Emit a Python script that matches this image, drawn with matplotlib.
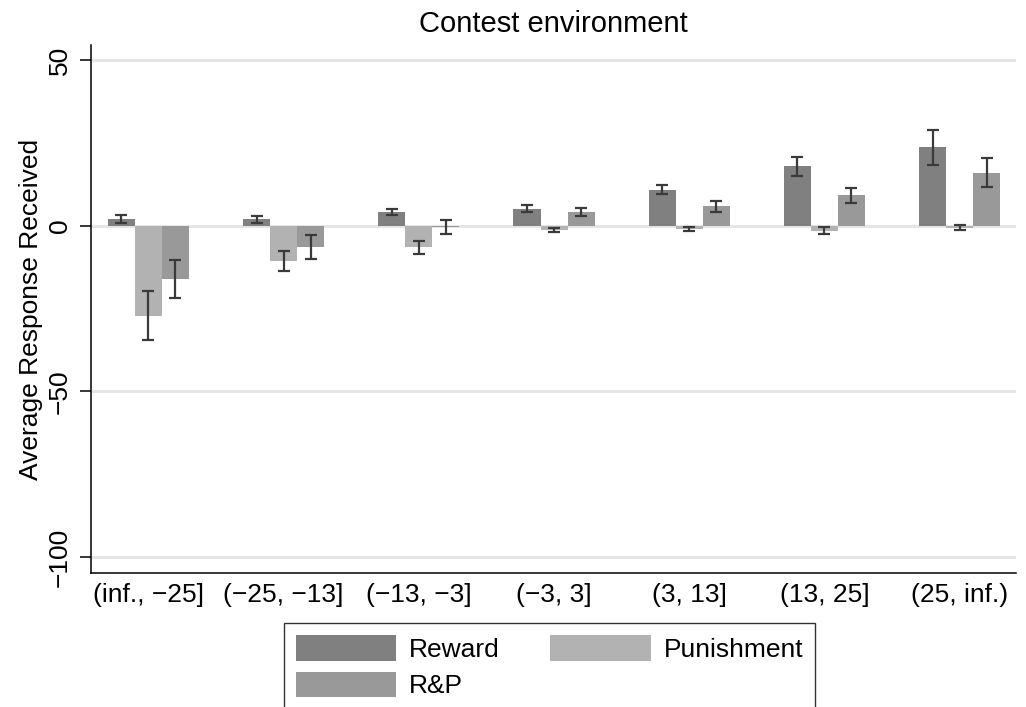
import numpy as np
import matplotlib
matplotlib.use("Agg")
import matplotlib.pyplot as plt

plt.rcParams["font.family"] = ["Liberation Sans", "DejaVu Sans"]

categories = ["(inf., \u221225]", "(\u221225, \u221213]", "(\u221213, \u22123]",
              "(\u22123, 3]", "(3, 13]", "(13, 25]", "(25, inf.)"]

reward = [2.1, 1.9, 4.1, 5.1, 10.9, 17.9, 23.7]
reward_err = [1.2, 1.0, 1.0, 1.1, 1.4, 2.9, 5.3]

punishment = [-27.2, -10.8, -6.5, -1.2, -1.1, -1.5, -0.6]
punishment_err = [7.4, 3.0, 2.0, 0.6, 0.55, 1.1, 0.7]

rp = [-16.1, -6.5, -0.4, 4.1, 5.8, 9.2, 16.0]
rp_err = [5.6, 3.7, 2.0, 1.3, 1.6, 2.3, 4.4]

fig = plt.figure(figsize=(10.26, 7.07), dpi=100)
ax = fig.add_axes([91 / 1026, 1 - 573 / 707, (1016 - 91) / 1026, (573 - 45) / 707])

x = np.arange(len(categories))
w = 0.2
series = [
    (reward, reward_err, "#808080", "Reward", -w),
    (punishment, punishment_err, "#b2b2b2", "Punishment", 0),
    (rp, rp_err, "#999999", "R&P", w),
]
handles = {}
for vals, errs, col, name, off in series:
    handles[name] = ax.bar(x + off, vals, width=w, color=col, label=name, zorder=2)
    ax.errorbar(x + off, vals, yerr=errs, fmt="none", ecolor="#3a3a3a",
                elinewidth=1.6, capsize=4.2, capthick=1.6, zorder=3)

for y in [50, 0, -50, -100]:
    ax.axhline(y, color="#e4e4e4", lw=2, zorder=1)

ax.set_xlim(-0.425, 6.417)
ax.set_ylim(-104.8, 54.5)
ax.set_xticks(x)
ax.set_xticklabels(categories, fontsize=19)
ax.tick_params(axis="x", length=0, pad=7)
ax.set_yticks([50, 0, -50, -100])
ax.set_yticklabels(["50", "0", "\u221250", "\u2212100"], rotation=90, va="center", fontsize=19)
ax.tick_params(axis="y", length=8, width=1.1, pad=6)

for s in ["top", "right"]:
    ax.spines[s].set_visible(False)
for s in ["left", "bottom"]:
    ax.spines[s].set_linewidth(1.1)

ax.set_ylabel("Average Response Received", fontsize=19, labelpad=3)
ax.set_title("Contest environment", fontsize=21, pad=9)

fig.legend([handles["Reward"], handles["R&P"], handles["Punishment"]],
           ["Reward", "R&P", "Punishment"],
           ncol=2, loc="upper left", bbox_to_anchor=(284 / 1026, 1 - 623 / 707),
           fontsize=19, frameon=True, fancybox=False, edgecolor="black",
           handlelength=3.8, handleheight=1.12, handletextpad=0.5,
           columnspacing=1.9, labelspacing=0.38, borderpad=0.45,
           borderaxespad=0)

fig.savefig("out.png", dpi=100)
